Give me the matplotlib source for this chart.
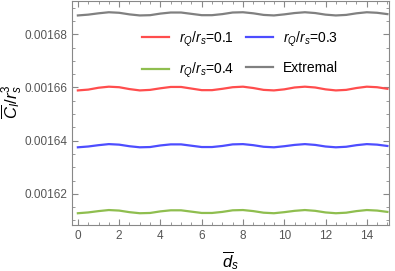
import matplotlib
matplotlib.use('Agg')
import matplotlib.pyplot as plt
from matplotlib.ticker import MultipleLocator

plt.rcParams['font.family'] = ['Liberation Sans', 'DejaVu Sans']
plt.rcParams['mathtext.fontset'] = 'custom'
plt.rcParams['mathtext.rm'] = 'Liberation Sans'
plt.rcParams['mathtext.it'] = 'Liberation Sans:italic'

# datos
d_s = [0.0, 0.5, 1.0, 1.5, 2.0, 2.5, 3.0, 3.5, 4.0, 4.5, 5.0, 5.5, 6.0, 6.5, 7.0, 7.5,
       8.0, 8.5, 9.0, 9.5, 10.0, 10.5, 11.0, 11.5, 12.0, 12.5, 13.0, 13.5, 14.0, 14.5, 15.0]

extremal = [0.0016871, 0.0016874, 0.0016879, 0.0016883, 0.0016881, 0.0016875, 0.0016871, 0.0016872,
            0.0016878, 0.0016882, 0.0016882, 0.0016877, 0.0016872, 0.0016872, 0.0016876, 0.0016882,
            0.0016883, 0.0016879, 0.0016873, 0.0016871, 0.0016875, 0.0016880, 0.0016883, 0.0016880,
            0.0016874, 0.0016871, 0.0016873, 0.0016879, 0.0016883, 0.0016881, 0.0016876]

rq_01 = [0.0016589, 0.0016592, 0.0016599, 0.0016603, 0.0016601, 0.0016594, 0.0016589, 0.0016591,
         0.0016597, 0.0016602, 0.0016602, 0.0016596, 0.0016590, 0.0016590, 0.0016595, 0.0016601,
         0.0016603, 0.0016598, 0.0016591, 0.0016589, 0.0016593, 0.0016600, 0.0016603, 0.0016600,
         0.0016593, 0.0016589, 0.0016591, 0.0016598, 0.0016603, 0.0016601, 0.0016595]

rq_03 = [0.0016375, 0.0016378, 0.0016383, 0.0016387, 0.0016385, 0.0016379, 0.0016375, 0.0016376,
         0.0016382, 0.0016386, 0.0016386, 0.0016381, 0.0016376, 0.0016376, 0.0016380, 0.0016386,
         0.0016387, 0.0016383, 0.0016377, 0.0016375, 0.0016379, 0.0016384, 0.0016387, 0.0016384,
         0.0016378, 0.0016375, 0.0016377, 0.0016383, 0.0016387, 0.0016385, 0.0016380]

rq_04 = [0.0016127, 0.0016130, 0.0016135, 0.0016139, 0.0016137, 0.0016131, 0.0016127, 0.0016128,
         0.0016134, 0.0016138, 0.0016138, 0.0016133, 0.0016128, 0.0016128, 0.0016132, 0.0016138,
         0.0016139, 0.0016135, 0.0016129, 0.0016127, 0.0016131, 0.0016136, 0.0016139, 0.0016136,
         0.0016130, 0.0016127, 0.0016129, 0.0016135, 0.0016139, 0.0016137, 0.0016132]

y_ticks = [0.00162, 0.00164, 0.00166, 0.00168]

fig = plt.figure(figsize=(3.95, 2.71), dpi=100)
ax = fig.add_axes([0.182, 0.170, 0.803, 0.826])

l1, = ax.plot(d_s, rq_01, color='#ff4d4d', lw=1.6, label=r'$r_Q/r_s$=0.1')
l3, = ax.plot(d_s, rq_03, color='#4d4dff', lw=1.6, label=r'$r_Q/r_s$=0.3')
l4, = ax.plot(d_s, rq_04, color='#8fbe4f', lw=1.6, label=r'$r_Q/r_s$=0.4')
le, = ax.plot(d_s, extremal, color='#808080', lw=1.6, label='Extremal')

ax.set_xlim(-0.29, 15.08)
ax.set_ylim(0.0016083, 0.0016925)
ax.set_yticks(y_ticks)
ax.set_yticklabels([f'{v:.5f}' for v in y_ticks])
ax.xaxis.set_major_locator(MultipleLocator(2))
ax.xaxis.set_minor_locator(MultipleLocator(0.5))
ax.yaxis.set_minor_locator(MultipleLocator(0.000005))

ax.tick_params(which='both', direction='in', top=True, right=True,
               colors='#888888', labelcolor='#555555', labelsize=8.5)
ax.tick_params(which='major', length=4, width=0.8)
ax.tick_params(which='minor', length=2.2, width=0.6)
for s in ax.spines.values():
    s.set_color('#888888')
    s.set_linewidth(0.8)

ax.set_xlabel(r'$\overline{d}_s$', fontsize=12, labelpad=5)
ax.set_ylabel(r'$\overline{C}_I/r_s^3$', fontsize=12)
ax.yaxis.set_label_coords(-0.15, 0.55)

# orden por columnas para que quede rojo/azul arriba y verde/gris abajo
ax.legend([l1, l4, l3, le], [l1.get_label(), l4.get_label(), l3.get_label(), le.get_label()],
          ncol=2, frameon=False, loc='upper center', bbox_to_anchor=(0.53, 0.93),
          fontsize=10, handlelength=2.0, handletextpad=0.7, columnspacing=0.8,
          labelspacing=0.9)

fig.savefig('out.png', dpi=100)
